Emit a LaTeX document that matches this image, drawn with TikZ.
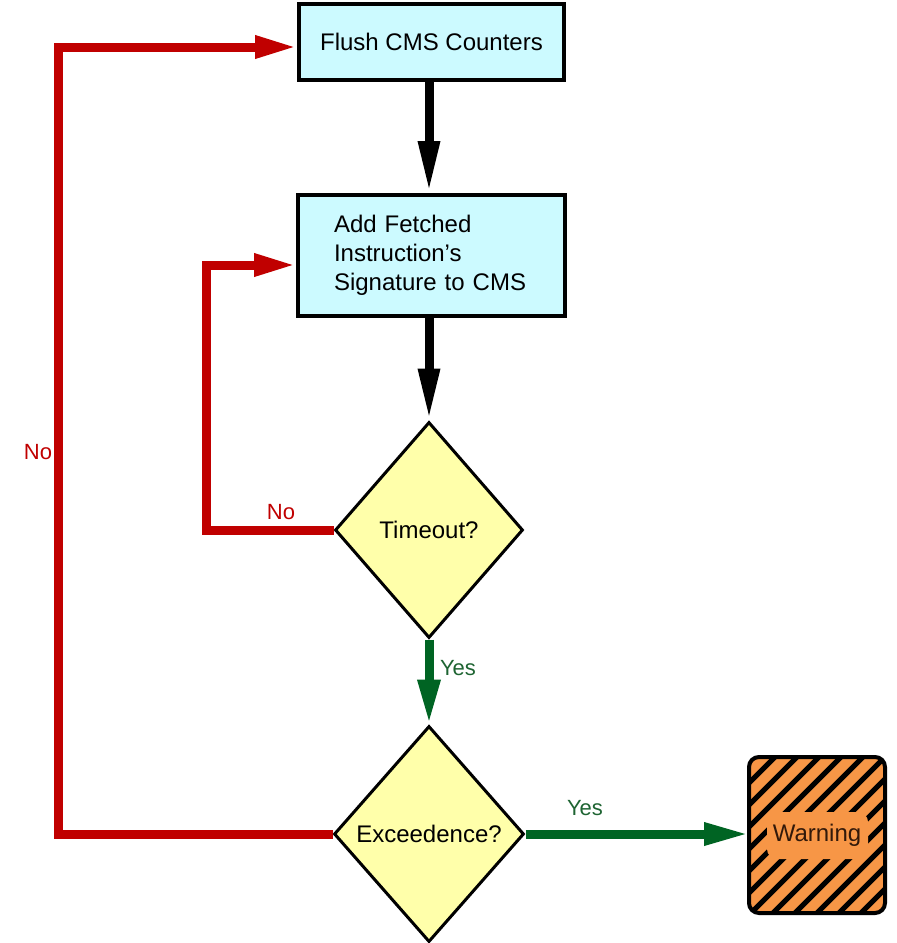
\documentclass[tikz,border=0pt]{standalone}
\usepackage{fontspec}
\setmainfont{Liberation Sans}
\usetikzlibrary{arrows.meta,shapes.geometric,calc}

\definecolor{boxcyan}{RGB}{204,250,255}
\definecolor{diamyellow}{RGB}{255,255,170}
\definecolor{warnorange}{RGB}{247,150,70}
\definecolor{flowred}{RGB}{192,0,0}
\definecolor{flowgreen}{RGB}{0,100,35}
\definecolor{labelgreen}{RGB}{30,100,50}
\definecolor{warntext}{RGB}{50,25,10}

\tikzset{
  procbox/.style={draw=black, line width=4pt, fill=boxcyan, inner sep=0pt,
    font=\fontsize{24}{29}\selectfont},
  decision/.style={diamond, draw=black, line width=3pt, fill=diamyellow,
    inner sep=0pt, font=\fontsize{24}{29}\selectfont},
  alertbox/.style={draw=black, line width=4pt, fill=warnorange, rounded corners=10pt,
    outer sep=0pt, font=\fontsize{24}{29}\selectfont, text=warntext},
  mainflow/.style={line width=9pt, black, -{Triangle[length=52pt,width=20pt]}},
  noflow/.style={line width=9pt, flowred, -{Triangle[length=42pt,width=21pt]}},
  yesflow/.style={line width=9pt, flowgreen, -{Triangle[length=45pt,width=21pt]}},
  nolabel/.style={text=flowred, font=\fontsize{22}{26}\selectfont, inner sep=0pt},
  yeslabel/.style={text=labelgreen, font=\fontsize{22}{26}\selectfont, inner sep=0pt},
}

\begin{document}
\begin{tikzpicture}[x=1pt, y=-1pt]
  \useasboundingbox (0,0) rectangle (897,943);

  % process steps
  \node[procbox, minimum width=265pt, minimum height=76pt] (flush) at (431.5,42)
    {Flush CMS Counters};
  \node[procbox, minimum width=267pt, minimum height=121pt, text width=195pt,
        inner xsep=36pt, align=left] (add) at (431.5,255.5)
    {Add Fetched\\Instruction’s\\Signature to CMS};

  % decisions
  \node[decision, minimum width=188pt, minimum height=216pt] (tout) at (429,530)
    {Timeout?};
  \node[decision, minimum width=190pt, minimum height=216pt] (exc) at (429,834)
    {Exceedence?};

  % hatched warning box
  \node[alertbox, minimum width=136pt, minimum height=156pt,
    path picture={
      \foreach \c in {4,26,...,290}
        \draw[black, line width=5pt]
          ($(path picture bounding box.north west)+(\c+20,-20)$) -- ++(-\c-40,\c+40);
      \fill[warnorange] ($(path picture bounding box.center)+(-50,-23)$) rectangle ++(101,47);
    }] (warn) at (817,835) {Warning};

  % main flow
  \draw[mainflow] (flush.south -| tout.north) -- (add.north -| tout.north);
  \draw[mainflow] (add.south -| tout.north) -- (tout.north);

  % yes branches
  \draw[yesflow] (tout.south) -- (exc.north);
  \draw[yesflow] (exc.east) -- (warn.west |- exc.east);
  \node[yeslabel] (yes1) at (458,668) {Yes};
  \node[yeslabel] (yes2) at (585,808) {Yes};

  % no branches
  \draw[noflow] (tout.west) -- ++(-127,0) |- ([yshift=-9.5pt]add.west);
  \draw[noflow] (exc.west) -- ++(-274,0) |- ([yshift=-5pt]flush.west);
  \node[nolabel] (no1) at (281,512) {No};
  \node[nolabel] (no2) at (38,452) {No};
\end{tikzpicture}
\end{document}
